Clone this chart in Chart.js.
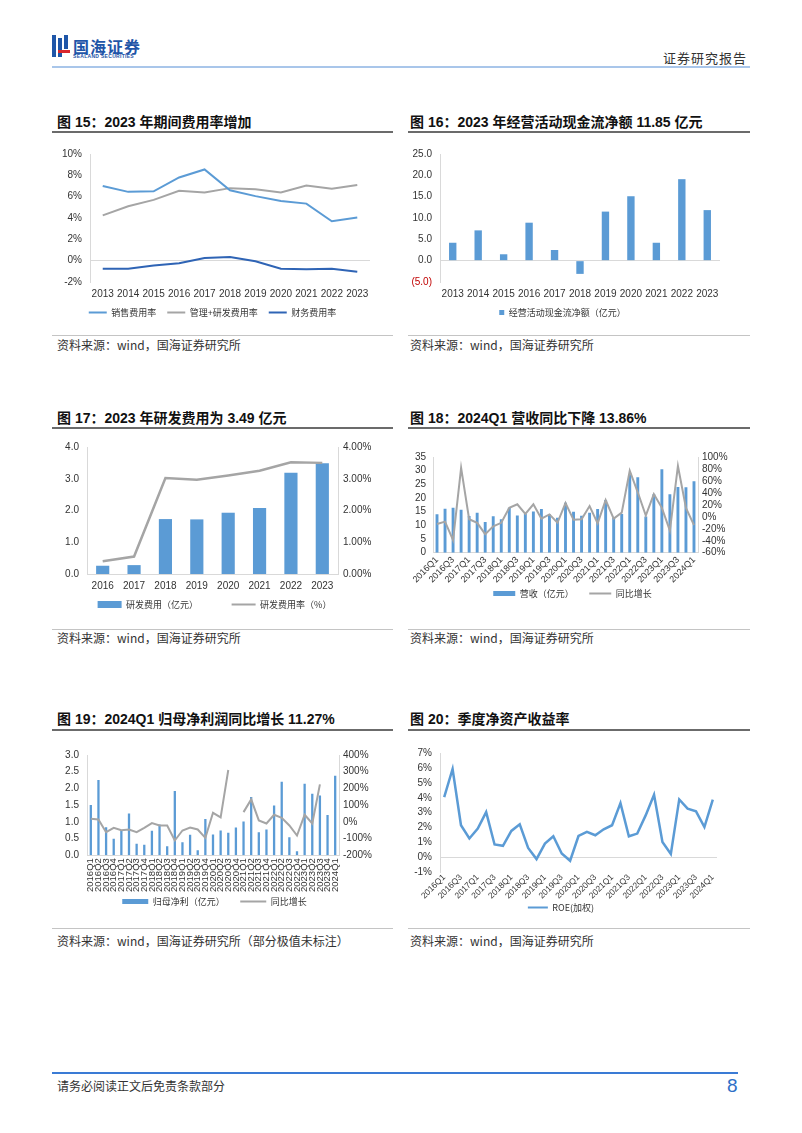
<!DOCTYPE html>
<html>
<head>
<meta charset="utf-8">
<script src="https://cdn.jsdelivr.net/npm/chart.js@4.4.1/dist/chart.umd.min.js"></script>
<style>
  body { margin: 0; background: #fff; width: 802px; height: 1133px; position: relative; overflow: hidden;
         font-family: "Noto Sans CJK SC", sans-serif; color: #222; }
  .abs { position: absolute; }
  .title { position: absolute; font-size: 14px; font-weight: bold; line-height: 18px; color: #111;
           font-family: "Liberation Sans", "Noto Sans CJK SC", sans-serif; white-space: pre; }
  .tline { position: absolute; height: 2px; background: #6b6b6b; }
  .sline { position: absolute; height: 1px; background: #c4c4c4; }
  .src { position: absolute; font-size: 12px; line-height: 14px; color: #333; }
  .box { position: absolute; }
</style>
</head>
<body>

<!-- header -->
<div class="abs" style="left:52px;top:35px;width:18px;height:22px;">
  <div class="abs" style="left:0;top:0;width:4px;height:22px;background:#1f56a8"></div>
  <div class="abs" style="left:6px;top:3px;width:4px;height:19px;background:#1f56a8"></div>
  <div class="abs" style="left:12px;top:0;width:4px;height:14px;background:#1f56a8"></div>
  <div class="abs" style="left:6px;top:15px;width:12px;height:3px;background:#d9262c"></div>
</div>
<div class="abs" style="left:73px;top:34px;font-size:16px;font-weight:bold;color:#1f56a8;letter-spacing:1px;">国海证券</div>
<div class="abs" style="left:73px;top:53px;font-size:5px;font-weight:bold;color:#1f56a8;font-family:'Liberation Sans',sans-serif;letter-spacing:0.3px;">SEALAND SECURITIES</div>
<div class="abs" style="right:55px;top:48px;font-size:13px;color:#333;letter-spacing:1px;">证券研究报告</div>
<div class="abs" style="left:52px;top:66px;width:698px;height:2px;background:#a9c6ea"></div>

<!-- row 1 -->
<div class="title" style="left:57px;top:113px;">图 15：2023 年期间费用率增加</div>
<div class="title" style="left:410px;top:113px;">图 16：2023 年经营活动现金流净额 11.85 亿元</div>
<div class="tline" style="left:52px;top:131px;width:341px;"></div>
<div class="tline" style="left:408px;top:131px;width:342px;"></div>
<div class="box" style="left:55px;top:140px;width:320px;height:187px;"><canvas id="c15"></canvas></div>
<div class="box" style="left:405px;top:140px;width:320px;height:187px;"><canvas id="c16"></canvas></div>
<div class="sline" style="left:52px;top:335px;width:341px;"></div>
<div class="sline" style="left:408px;top:335px;width:342px;"></div>
<div class="src" style="left:57px;top:338px;">资料来源：wind，国海证券研究所</div>
<div class="src" style="left:410px;top:338px;">资料来源：wind，国海证券研究所</div>

<!-- row 2 -->
<div class="title" style="left:57px;top:409px;">图 17：2023 年研发费用为 3.49 亿元</div>
<div class="title" style="left:410px;top:409px;">图 18：2024Q1 营收同比下降 13.86%</div>
<div class="tline" style="left:52px;top:427px;width:341px;"></div>
<div class="tline" style="left:408px;top:427px;width:342px;"></div>
<div class="box" style="left:52px;top:433px;width:325px;height:186px;"><canvas id="c17"></canvas></div>
<div class="box" style="left:410px;top:444px;width:325px;height:164px;"><canvas id="c18"></canvas></div>
<div class="sline" style="left:52px;top:629px;width:341px;"></div>
<div class="sline" style="left:408px;top:629px;width:342px;"></div>
<div class="src" style="left:57px;top:631px;">资料来源：wind，国海证券研究所</div>
<div class="src" style="left:410px;top:631px;">资料来源：wind，国海证券研究所</div>

<!-- row 3 -->
<div class="title" style="left:57px;top:710px;">图 19：2024Q1 归母净利润同比增长 11.27%</div>
<div class="title" style="left:410px;top:710px;">图 20：季度净资产收益率</div>
<div class="tline" style="left:52px;top:729px;width:341px;"></div>
<div class="tline" style="left:408px;top:729px;width:342px;"></div>
<div class="box" style="left:52px;top:741px;width:325px;height:175px;"><canvas id="c19"></canvas></div>
<div class="box" style="left:405px;top:739px;width:317px;height:183px;"><canvas id="c20"></canvas></div>
<div class="sline" style="left:52px;top:928px;width:341px;"></div>
<div class="sline" style="left:408px;top:928px;width:342px;"></div>
<div class="src" style="left:57px;top:934px;">资料来源：wind，国海证券研究所（部分极值未标注）</div>
<div class="src" style="left:410px;top:934px;">资料来源：wind，国海证券研究所</div>

<!-- footer -->
<div class="abs" style="left:52px;top:1072px;width:686px;height:2px;background:#3a7bd5"></div>
<div class="src" style="left:57px;top:1079px;">请务必阅读正文后免责条款部分</div>
<div class="abs" style="left:727px;top:1075px;font-size:19px;color:#2e6fc7;font-family:'Liberation Sans Narrow','Liberation Sans',sans-serif;">8</div>

<script>
// ---- data ----
const years15 = ['2013', '2014', '2015', '2016', '2017', '2018', '2019', '2020', '2021', '2022', '2023'];
const salesRate = [7.0, 6.45, 6.5, 7.8, 8.55, 6.6, 6.05, 5.6, 5.35, 3.7, 4.05];
const adminRdRate = [4.25, 5.1, 5.7, 6.55, 6.4, 6.8, 6.7, 6.4, 7.05, 6.75, 7.1];
const financeRate = [-0.75, -0.75, -0.45, -0.25, 0.25, 0.35, -0.05, -0.75, -0.8, -0.75, -1.05];

const opCashFlow = [4.2, 7.1, 1.5, 8.9, 2.5, -3.1, 11.5, 15.1, 4.2, 19.1, 11.85];

const years17 = ['2016', '2017', '2018', '2019', '2020', '2021', '2022', '2023'];
const rdExpense = [0.26, 0.28, 1.73, 1.72, 1.93, 2.08, 3.19, 3.49];
const rdRate = [0.4, 0.55, 3.02, 2.97, 3.1, 3.25, 3.52, 3.5];

const quarters = ['2016Q1', '2016Q2', '2016Q3', '2016Q4', '2017Q1', '2017Q2', '2017Q3', '2017Q4',
  '2018Q1', '2018Q2', '2018Q3', '2018Q4', '2019Q1', '2019Q2', '2019Q3', '2019Q4',
  '2020Q1', '2020Q2', '2020Q3', '2020Q4', '2021Q1', '2021Q2', '2021Q3', '2021Q4',
  '2022Q1', '2022Q2', '2022Q3', '2022Q4', '2023Q1', '2023Q2', '2023Q3', '2023Q4', '2024Q1'];

const revenue = [14.1, 16.1, 16.4, 15.7, 13.4, 14.6, 11.2, 13.3, 12.2, 16.4, 13.6, 14.2, 15.1, 16.0, 14.1, 12.8,
  18.3, 15.0, 13.5, 14.6, 16.0, 19.3, 12.8, 14.2, 28.6, 27.6, 13.2, 21.4, 30.5, 21.4, 24.0, 23.9, 26.1];
const revenueYoy = [-12, -8, -39, 82, -4, -10, -29, -16, -10, 15, 21, 5, 21, -3, 4, -10,
  23, -5, -4, 18, -11, 28, -3, 7, 77, 41, 2, 38, 15, -23, 85, 15, -14];

const netProfit = [1.5, 2.25, 0.84, 0.49, 0.74, 1.25, 0.34, 0.31, 0.73, 0.92, 0.27, 1.92, 0.39, 0.61, 0.15, 1.08,
  0.62, 0.74, 0.67, 0.83, 1.01, 1.74, 0.69, 0.77, 1.49, 2.2, 0.54, 0.12, 2.14, 1.84, 1.79, 1.2, 2.38];
const netProfitYoy = [18, 14, -62, -36, -50, -46, -62, -36, -8, -22, -22, -112, -52, -34, -46, -96,
  54, 26, 310, null, 58, 134, 8, -10, 42, 24, -22, -82, 42, -10, 224, null, null];

const roe = [4.04, 5.93, 2.16, 1.27, 1.93, 3.04, 0.87, 0.78, 1.78, 2.22, 0.64, -0.11, 0.93, 1.42, 0.27, -0.22,
  1.44, 1.71, 1.49, 1.89, 2.16, 3.64, 1.42, 1.6, 2.82, 4.2, 1.04, 0.24, 3.89, 3.27, 3.09, 2.04, 3.87];

// ---- styles ----
const BLUE = '#5B9BD5';
const GRAY = '#A5A5A5';
const DARK_BLUE = '#2F64B5';
const AXIS = '#d9d9d9';

Chart.defaults.font.family = '"Liberation Sans", "Noto Sans CJK SC", sans-serif';
Chart.defaults.font.size = 10;
Chart.defaults.color = '#333';
Chart.defaults.animation = false;
Chart.defaults.maintainAspectRatio = false;
Chart.defaults.plugins.tooltip.enabled = false;
Chart.defaults.elements.point.radius = 0;
Chart.defaults.elements.line.tension = 0;

function fixWidth(w) {
    return function (scale) { scale.width = w; };
}

function zeroLine(ctx) {
    return ctx.tick.value === 0 ? AXIS : 'rgba(0,0,0,0)';
}

// legend entries: wide rect for bars, short stroke for lines; gap = trailing spaces between entries
function legend(boxW, boxH, gap) {
    return {
        position: 'bottom',
        labels: {
            usePointStyle: true,
            pointStyleWidth: boxW,
            boxHeight: boxH,
            padding: 2,
            color: '#333',
            font: { family: '"Noto Sans CJK SC", sans-serif', size: 9 },
            generateLabels: function (chart) {
                var n = chart.data.datasets.length;
                return chart.data.datasets.map(function (ds, i) {
                    var isBar = (ds.type || chart.config.type) === 'bar';
                    var col = isBar ? ds.backgroundColor : ds.borderColor;
                    return {
                        text: ds.label + (i < n - 1 ? gap : ''),
                        datasetIndex: i, hidden: false,
                        pointStyle: isBar ? 'rect' : 'line',
                        fillStyle: col, strokeStyle: col,
                        lineWidth: isBar ? 0 : 2, fontColor: '#333'
                    };
                });
            }
        }
    };
}

function everyOther(value, index) {
    return index % 2 === 0 ? quarters[index] : '';
}

const noGrid = { display: false, drawTicks: false };
const zeroGrid = { color: zeroLine, drawTicks: false };

// Figure 15
new Chart(document.getElementById('c15'), {
    type: 'line',
    data: {
        labels: years15,
        datasets: [
            { label: '销售费用率', data: salesRate, borderColor: BLUE, borderWidth: 2 },
            { label: '管理+研发费用率', data: adminRdRate, borderColor: GRAY, borderWidth: 2 },
            { label: '财务费用率', data: financeRate, borderColor: DARK_BLUE, borderWidth: 2 }
        ]
    },
    options: {
        layout: { padding: { top: 1, right: 5 } },
        plugins: { legend: legend(18, 8, '\u3000') },
        scales: {
            x: { offset: true, grid: noGrid, border: { display: false },
                 ticks: { padding: 6, maxRotation: 0, autoSkip: false } },
            y: {
                min: -2, max: 10,
                ticks: { stepSize: 2, padding: 8, autoSkip: false, callback: v => v + '%' },
                grid: zeroGrid,
                border: { color: AXIS },
                afterFit: fixWidth(35)
            }
        }
    }
});

// Figure 16
new Chart(document.getElementById('c16'), {
    type: 'bar',
    data: {
        labels: years15,
        datasets: [
            { label: '经营活动现金流净额（亿元）', data: opCashFlow, backgroundColor: BLUE,
              barPercentage: 0.29, categoryPercentage: 1 }
        ]
    },
    options: {
        layout: { padding: { top: 1, right: 5 } },
        plugins: { legend: legend(5, 5, '') },
        scales: {
            x: { grid: noGrid, border: { display: false },
                 ticks: { padding: 6, maxRotation: 0, autoSkip: false } },
            y: {
                min: -5, max: 25,
                ticks: {
                    stepSize: 5, padding: 8, autoSkip: false,
                    callback: v => v < 0 ? '(' + Math.abs(v).toFixed(1) + ')' : v.toFixed(1),
                    color: ctx => ctx.tick.value < 0 ? '#c00000' : '#333'
                },
                grid: zeroGrid,
                border: { color: AXIS },
                afterFit: fixWidth(35)
            }
        }
    }
});

// Figure 17
new Chart(document.getElementById('c17'), {
    type: 'bar',
    data: {
        labels: years17,
        datasets: [
            { type: 'bar', label: '研发费用（亿元）', data: rdExpense, backgroundColor: BLUE,
              barPercentage: 0.42, categoryPercentage: 1, yAxisID: 'y', order: 2 },
            { type: 'line', label: '研发费用率（%）', data: rdRate, borderColor: GRAY, borderWidth: 2.5,
              yAxisID: 'y1', order: 1 }
        ]
    },
    options: {
        layout: { padding: { top: 0 } },
        plugins: { legend: legend(24, 7, '\u3000\u3000\u3000\u3000') },
        scales: {
            x: { grid: noGrid, border: { color: AXIS },
                 ticks: { padding: 6, maxRotation: 0, autoSkip: false } },
            y: {
                min: 0, max: 4,
                ticks: { stepSize: 1, padding: 8, autoSkip: false, callback: v => v.toFixed(1) },
                grid: noGrid,
                border: { color: AXIS },
                afterFit: fixWidth(35)
            },
            y1: {
                position: 'right', min: 0, max: 4,
                ticks: { stepSize: 1, padding: 5, autoSkip: false, callback: v => v.toFixed(2) + '%' },
                grid: noGrid,
                border: { color: AXIS },
                afterFit: fixWidth(39)
            }
        }
    }
});

// Figure 18
new Chart(document.getElementById('c18'), {
    type: 'bar',
    data: {
        labels: quarters,
        datasets: [
            { type: 'bar', label: '营收（亿元）', data: revenue, backgroundColor: BLUE,
              barPercentage: 0.36, categoryPercentage: 1, yAxisID: 'y', order: 2 },
            { type: 'line', label: '同比增长', data: revenueYoy, borderColor: GRAY, borderWidth: 2,
              yAxisID: 'y1', order: 1 }
        ]
    },
    options: {
        layout: { padding: { top: 4 } },
        plugins: { legend: legend(22, 5, '\u3000\u3000') },
        scales: {
            x: {
                grid: noGrid, border: { color: AXIS },
                ticks: { autoSkip: false, maxRotation: 45, minRotation: 45, padding: 2,
                         font: { size: 9 }, callback: everyOther }
            },
            y: {
                min: 0, max: 35,
                ticks: { stepSize: 5, padding: 7, autoSkip: false },
                grid: noGrid,
                border: { color: AXIS },
                afterFit: fixWidth(23)
            },
            y1: {
                position: 'right', min: -60, max: 100,
                ticks: { stepSize: 20, padding: 4, autoSkip: false, callback: v => v + '%' },
                grid: noGrid,
                border: { color: AXIS },
                afterFit: fixWidth(37)
            }
        }
    }
});

// Figure 19
new Chart(document.getElementById('c19'), {
    type: 'bar',
    data: {
        labels: quarters,
        datasets: [
            { type: 'bar', label: '归母净利（亿元）', data: netProfit, backgroundColor: BLUE,
              barPercentage: 0.3, categoryPercentage: 1, yAxisID: 'y', order: 2 },
            { type: 'line', label: '同比增长', data: netProfitYoy, borderColor: GRAY, borderWidth: 2,
              spanGaps: false, yAxisID: 'y1', order: 1 }
        ]
    },
    options: {
        layout: { padding: { top: 1 } },
        plugins: { legend: legend(26, 5, '\u3000\u3000') },
        scales: {
            x: {
                grid: noGrid, border: { color: AXIS },
                ticks: { autoSkip: false, maxRotation: 90, minRotation: 90, padding: 3, font: { size: 9.5 } }
            },
            y: {
                min: 0, max: 3,
                ticks: { stepSize: 0.5, padding: 8, autoSkip: false, callback: v => v.toFixed(1) },
                grid: noGrid,
                border: { color: AXIS },
                afterFit: fixWidth(35)
            },
            y1: {
                position: 'right', min: -200, max: 400,
                ticks: { stepSize: 100, padding: 4, autoSkip: false, callback: v => v + '%' },
                grid: noGrid,
                border: { color: AXIS },
                afterFit: fixWidth(38)
            }
        }
    }
});

// Figure 20
new Chart(document.getElementById('c20'), {
    type: 'line',
    data: {
        labels: quarters,
        datasets: [
            { label: 'ROE(加权)', data: roe, borderColor: BLUE, borderWidth: 2.5 }
        ]
    },
    options: {
        layout: { padding: { top: 1, right: 5 } },
        plugins: { legend: legend(20, 8, '') },
        scales: {
            x: {
                offset: true, grid: noGrid, border: { display: false },
                ticks: { autoSkip: false, maxRotation: 45, minRotation: 45, padding: 0,
                         font: { size: 8.5 }, callback: everyOther }
            },
            y: {
                min: -1, max: 7,
                ticks: { stepSize: 1, padding: 8, autoSkip: false, callback: v => v + '%' },
                grid: zeroGrid,
                border: { color: AXIS },
                afterFit: fixWidth(35)
            }
        }
    }
});
</script>
</body>
</html>
